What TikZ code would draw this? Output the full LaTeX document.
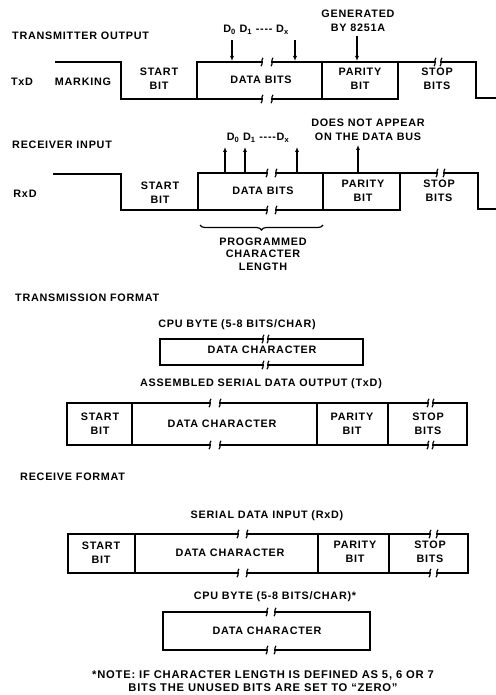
\documentclass[tikz,border=0pt]{standalone}
\usepackage{fontspec}
\setmainfont{Liberation Sans}[LetterSpace=7]
\usetikzlibrary{arrows.meta,decorations.pathreplacing}
\newcommand\brkmk[2]{\draw[brkst] (#1-1.0,#2+4.2) .. controls (#1+1.4,#2+1.5) and (#1-1.4,#2-1.5) .. (#1+1.0,#2-4.2);}
\begin{document}
\begin{tikzpicture}[x=1pt,y=-1pt,
  wave/.style={line width=1.6pt,line join=miter,line cap=rect},
  brkst/.style={line width=1.2pt},
  lbl/.style={font=\bfseries\fontsize{10.8}{14}\selectfont,inner sep=0pt,align=center},
  arr/.style={line width=1.1pt,-{Latex[length=5pt,width=4pt]}}]
\useasboundingbox (0,0) rectangle (495,695);
\fill[white] (0,0) rectangle (495,695);

% ---------------- TRANSMITTER OUTPUT ----------------
\node[lbl,anchor=west] (tto) at (12,36) {TRANSMITTER OUTPUT};
\node[lbl] (txd) at (22,82) {TxD};
\node[lbl] (mark) at (83,82) {MARKING};
\node[lbl] (tsb) at (159,79) {START\\BIT};
\node[lbl] (tdb) at (261,80) {DATA BITS};
\node[lbl] (tpb) at (360,79) {PARITY\\BIT};
\node[lbl] (tsp) at (437,79) {STOP\\BITS};
\node[lbl] (tdl) at (256,30) {D\textsubscript{0} D\textsubscript{1} {-}{-}{-}{-} D\textsubscript{x}};
\node[lbl] (gen) at (358,21) {GENERATED\\BY 8251A};

\draw[wave] (56,62) -- (121,62) -- (121,99) -- (262,99);
\draw[wave] (272,99) -- (398,99);
\draw[wave] (197,99) -- (197,62) -- (262,62);
\draw[wave] (272,62) -- (435,62);
\draw[wave] (441,62) -- (476,62) -- (476,98) -- (495,98);
\draw[wave] (322,62) -- (322,99);
\draw[wave] (398,62) -- (398,99);
\brkmk{262}{62}\brkmk{272}{62}\brkmk{262}{99}\brkmk{272}{99}
\brkmk{435}{62}\brkmk{441}{62}

\coordinate (ta1) at (232,40); \coordinate (tb1) at (232,61);
\coordinate (ta2) at (295,40); \coordinate (tb2) at (295,61);
\coordinate (ta3) at (357,36); \coordinate (tb3) at (357,61);
\draw[arr] (ta1) -- (tb1);
\draw[arr] (ta2) -- (tb2);
\draw[arr] (ta3) -- (tb3);

% ---------------- RECEIVER INPUT ----------------
\node[lbl,anchor=west] (rin) at (12,145) {RECEIVER INPUT};
\node[lbl] (rxd) at (25,194) {RxD};
\node[lbl] (rsb) at (160,193) {START\\BIT};
\node[lbl] (rdb) at (263,191) {DATA BITS};
\node[lbl] (rpb) at (363,191) {PARITY\\BIT};
\node[lbl] (rsp) at (439,191) {STOP\\BITS};
\node[lbl] (rdl) at (258,138) {D\textsubscript{0} D\textsubscript{1} {-}{-}{-}{-}D\textsubscript{x}};
\node[lbl] (dna) at (368,130) {DOES NOT APPEAR\\ON THE DATA BUS};

\draw[wave] (54,174) -- (121,174) -- (121,210) -- (267,210);
\draw[wave] (276,210) -- (400,210);
\draw[wave] (198,210) -- (198,173) -- (267,173);
\draw[wave] (276,173) -- (437,173);
\draw[wave] (444,173) -- (478,173) -- (478,209) -- (495,209);
\draw[wave] (323,173) -- (323,210);
\draw[wave] (400,173) -- (400,210);
\brkmk{267}{173}\brkmk{276}{173}\brkmk{267}{210}\brkmk{276}{210}
\brkmk{437}{173}\brkmk{444}{173}

\coordinate (ra1) at (225,172); \coordinate (rb1) at (225,147);
\coordinate (ra2) at (245,172); \coordinate (rb2) at (245,147);
\coordinate (ra3) at (297,172); \coordinate (rb3) at (297,147);
\coordinate (ra4) at (358,172); \coordinate (rb4) at (358,145);
\draw[arr] (ra1) -- (rb1);
\draw[arr] (ra2) -- (rb2);
\draw[arr] (ra3) -- (rb3);
\draw[arr] (ra4) -- (rb4);

\coordinate (brl) at (200,225); \coordinate (brr) at (323,225);
\draw[line width=1.2pt,decorate,decoration={brace,mirror,amplitude=5pt}] (brl) -- (brr);
\node[lbl,font=\bfseries\fontsize{10.8}{12.5}\selectfont] (pcl) at (263,254) {PROGRAMMED\\CHARACTER\\LENGTH};

% ---------------- TRANSMISSION FORMAT ----------------
\node[lbl,anchor=west] (tf) at (15,298) {TRANSMISSION FORMAT};
\node[lbl] (cpu1) at (237,325) {CPU BYTE (5-8 BITS/CHAR)};
\draw[wave] (263,339) -- (160,339) -- (160,365) -- (263,365);
\draw[wave] (268,339) -- (363,339) -- (363,365) -- (268,365);
\brkmk{263}{339}\brkmk{268}{339}\brkmk{263}{365}\brkmk{268}{365}
\node[lbl] (dc1) at (262,350) {DATA CHARACTER};

\node[lbl] (asm) at (261,384) {ASSEMBLED SERIAL DATA OUTPUT (TxD)};
\draw[wave] (210,403) -- (67,403) -- (67,445) -- (210,445);
\draw[wave] (220,403) -- (428,403);
\draw[wave] (220,445) -- (428,445);
\draw[wave] (433,403) -- (467,403) -- (467,445) -- (433,445);
\draw[wave] (132,403) -- (132,445);
\draw[wave] (317,403) -- (317,445);
\draw[wave] (388,403) -- (388,445);
\brkmk{210}{403}\brkmk{220}{403}\brkmk{210}{445}\brkmk{220}{445}
\brkmk{428}{403}\brkmk{433}{403}\brkmk{428}{445}\brkmk{433}{445}
\node[lbl] (asb) at (100,424) {START\\BIT};
\node[lbl] (adc) at (222,424) {DATA CHARACTER};
\node[lbl] (apb) at (352,424) {PARITY\\BIT};
\node[lbl] (asp) at (428,424) {STOP\\BITS};

% ---------------- RECEIVE FORMAT ----------------
\node[lbl,anchor=west] (rf) at (20,477) {RECEIVE FORMAT};
\node[lbl] (sdi) at (267,516) {SERIAL DATA INPUT (RxD)};
\draw[wave] (238,534) -- (68,534) -- (68,573) -- (238,573);
\draw[wave] (247,534) -- (430,534);
\draw[wave] (247,573) -- (430,573);
\draw[wave] (437,534) -- (468,534) -- (468,573) -- (437,573);
\draw[wave] (135,534) -- (135,573);
\draw[wave] (318,534) -- (318,573);
\draw[wave] (389,534) -- (389,573);
\brkmk{238}{534}\brkmk{247}{534}\brkmk{238}{573}\brkmk{247}{573}
\brkmk{430}{534}\brkmk{437}{534}\brkmk{430}{573}\brkmk{437}{573}
\node[lbl] (bsb) at (101,553) {START\\BIT};
\node[lbl] (bdc) at (230,553) {DATA CHARACTER};
\node[lbl] (bpb) at (355,552) {PARITY\\BIT};
\node[lbl] (bsp) at (430,552) {STOP\\BITS};

\node[lbl] (cpu2) at (275,597) {CPU BYTE (5-8 BITS/CHAR)*};
\draw[wave] (267,612) -- (163,612) -- (163,650) -- (267,650);
\draw[wave] (275,612) -- (370,612) -- (370,650) -- (275,650);
\brkmk{267}{612}\brkmk{275}{612}\brkmk{267}{650}\brkmk{275}{650}
\node[lbl] (dc2) at (267,631) {DATA CHARACTER};

\node[lbl,font=\bfseries\fontsize{11.2}{13.5}\selectfont] (note) at (263,681) {*NOTE: IF CHARACTER LENGTH IS DEFINED AS 5, 6 OR 7\\BITS THE UNUSED BITS ARE SET TO ``ZERO''};
\end{tikzpicture}
\end{document}
